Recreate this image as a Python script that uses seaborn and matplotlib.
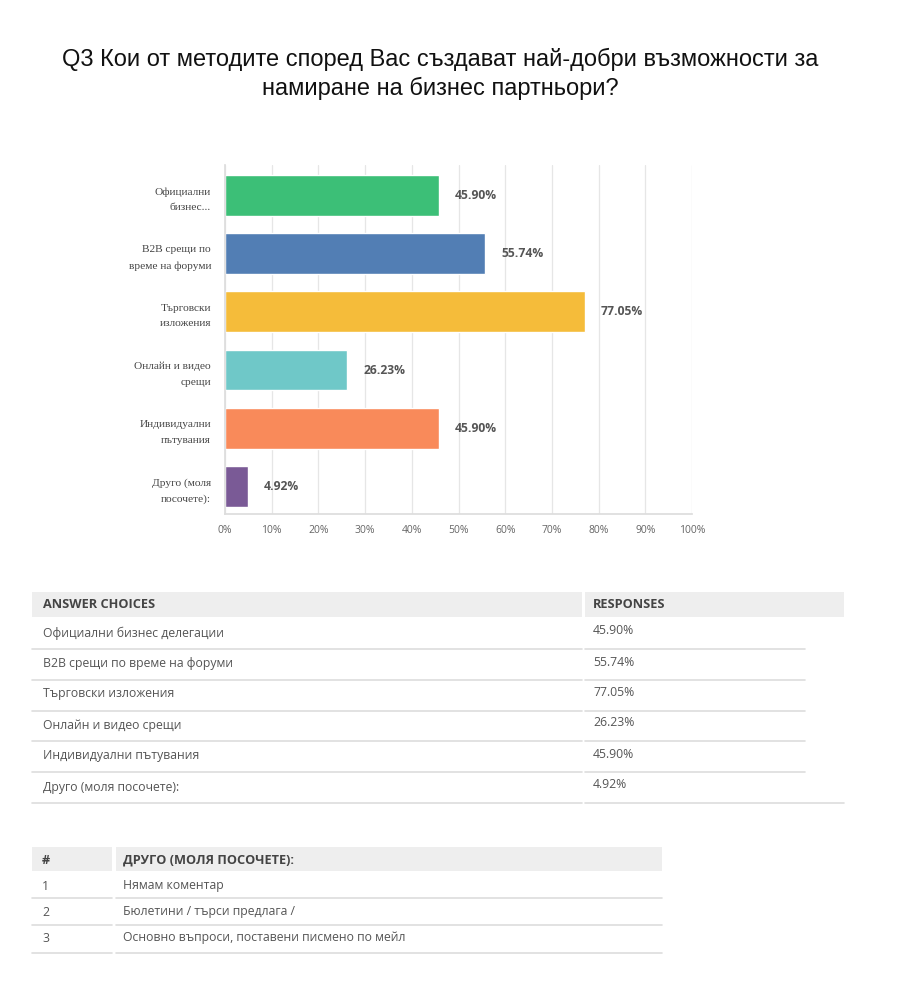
import matplotlib
matplotlib.use("Agg")
import matplotlib.pyplot as plt
import seaborn as sns
import pandas as pd
from matplotlib.patches import Rectangle
from matplotlib.lines import Line2D

# ---------------- data ----------------
title = "Q3 Кои от методите според Вас създават най-добри възможности за\nнамиране на бизнес партньори?"
short_labels = ["Официални\nбизнес...", "B2B срещи по\nвреме на форуми", "Търговски\nизложения",
                "Онлайн и видео\nсрещи", "Индивидуални\nпътувания", "Друго (моля\nпосочете):"]
full_labels = ["Официални бизнес делегации", "B2B срещи по време на форуми", "Търговски изложения",
               "Онлайн и видео срещи", "Индивидуални пътувания", "Друго (моля посочете):"]
values = [45.90, 55.74, 77.05, 26.23, 45.90, 4.92]
bar_colors = ["#3CBF77", "#527EB4", "#F5BC3A", "#6FC8C8", "#F98A5A", "#7A5A96"]
x_ticks = [0, 10, 20, 30, 40, 50, 60, 70, 80, 90, 100]
table1_headers = ["ANSWER CHOICES", "RESPONSES"]
table2_headers = ["#", "ДРУГО (МОЛЯ ПОСОЧЕТЕ):"]
other_ids = ["1", "2", "3"]
other_texts = ["Нямам коментар", "Бюлетини / търси предлага /", "Основно въпроси, поставени писмено по мейл"]

# ---------------- figure ----------------
sns.set_theme(style="white")
plt.rcParams["font.family"] = ["Open Sans", "DejaVu Sans"]

W, H = 900, 989
fig = plt.figure(figsize=(W / 100, H / 100), dpi=100)

def fx(x):
    return x / W

def fy(y):
    return 1 - y / H

# title
fig.text(fx(440), fy(74), title, ha="center", va="center", fontsize=17,
         family=["Liberation Sans Narrow", "Liberation Sans", "DejaVu Sans"], color="#111111",
         linespacing=1.3)

# chart axes
ax = fig.add_axes([fx(225), fy(514), (692 - 225) / W, (514 - 165) / H])
df = pd.DataFrame({"label": short_labels, "value": values})
sns.barplot(data=df, x="value", y="label", hue="label", palette=bar_colors, legend=False,
            orient="h", width=0.70, ax=ax, saturation=1)
ax.set_xlim(0, 100)
ax.set_ylim(5.47, -0.52)
ax.set_xticks(x_ticks)
ax.set_xticklabels([f"{t}%" for t in x_ticks], fontsize=7.5, color="#666666")
ax.set_xlabel("")
ax.set_ylabel("")
ax.tick_params(axis="y", length=0, pad=10)
ax.tick_params(axis="x", length=0, pad=8)
for lab in ax.get_yticklabels():
    lab.set_fontfamily(["Liberation Serif", "DejaVu Serif"])
    lab.set_fontsize(8.2)
    lab.set_color("#444444")
    lab.set_horizontalalignment("right")
    lab.set_linespacing(1.95)
ax.set_axisbelow(True)
ax.grid(axis="x", color="#E6E6E6", linewidth=0.9)
for s in ["top", "right"]:
    ax.spines[s].set_visible(False)
ax.spines["left"].set_color("#DDDDDD")
ax.spines["bottom"].set_color("#DDDDDD")
for i, v in enumerate(values):
    ax.text(v + 3.4, i, f"{v:.2f}%", va="center", ha="left", fontsize=8.7,
            fontweight="bold", color="#555555")

# ---------------- table 1 ----------------
hdr_col = "#EEEEEE"
line_col = "#DDDDDD"
txt_col = "#555555"
hdr_txt = "#444444"
hdr_fs = 9.2
row_fs = 8.8
fig.add_artist(Rectangle((fx(32), fy(617)), (582 - 32) / W, (617 - 592) / H,
                         transform=fig.transFigure, color=hdr_col, lw=0))
fig.add_artist(Rectangle((fx(585), fy(617)), (844 - 585) / W, (617 - 592) / H,
                         transform=fig.transFigure, color=hdr_col, lw=0))
fig.text(fx(43), fy(605), table1_headers[0], fontsize=hdr_fs, fontweight="bold", color=hdr_txt,
         va="center", ha="left")
fig.text(fx(593), fy(605), table1_headers[1], fontsize=hdr_fs, fontweight="bold", color=hdr_txt,
         va="center", ha="left")
row_y = [633, 664, 694, 725, 756, 787]
line_y = [649, 680, 711, 741, 772, 803]
for i, (lab, v) in enumerate(zip(full_labels, values)):
    fig.text(fx(43), fy(row_y[i]), lab, fontsize=row_fs, color=txt_col, va="center", ha="left")
    fig.text(fx(593), fy(row_y[i] - 2), f"{v:.2f}%", fontsize=row_fs, color=txt_col, va="center", ha="left")
    ly = fy(line_y[i])
    right_end = 844 if i == len(values) - 1 else 805
    fig.add_artist(Line2D([fx(32), fx(582)], [ly, ly], transform=fig.transFigure, color=line_col, lw=1.2))
    fig.add_artist(Line2D([fx(585), fx(right_end)], [ly, ly], transform=fig.transFigure, color=line_col, lw=1.2))

# ---------------- table 2 ----------------
fig.add_artist(Rectangle((fx(32), fy(871)), (112 - 32) / W, (871 - 847) / H,
                         transform=fig.transFigure, color=hdr_col, lw=0))
fig.add_artist(Rectangle((fx(116), fy(871)), (662 - 116) / W, (871 - 847) / H,
                         transform=fig.transFigure, color=hdr_col, lw=0))
fig.text(fx(42), fy(860), table2_headers[0], fontsize=hdr_fs, fontweight="bold", color=hdr_txt,
         va="center", ha="left")
fig.text(fx(123), fy(860), table2_headers[1], fontsize=hdr_fs, fontweight="bold", color=hdr_txt,
         va="center", ha="left")
row2_y = [885, 911, 938]
line2_y = [898, 925, 953]
for i, (n, t) in enumerate(zip(other_ids, other_texts)):
    fig.text(fx(42), fy(row2_y[i] + 1), n, fontsize=row_fs, color=txt_col, va="center", ha="left")
    fig.text(fx(123), fy(row2_y[i]), t, fontsize=row_fs, color=txt_col, va="center", ha="left")
    ly = fy(line2_y[i])
    fig.add_artist(Line2D([fx(32), fx(112)], [ly, ly], transform=fig.transFigure, color=line_col, lw=1.2))
    fig.add_artist(Line2D([fx(116), fx(662)], [ly, ly], transform=fig.transFigure, color=line_col, lw=1.2))

fig.savefig("out.png", dpi=100, facecolor="white")
